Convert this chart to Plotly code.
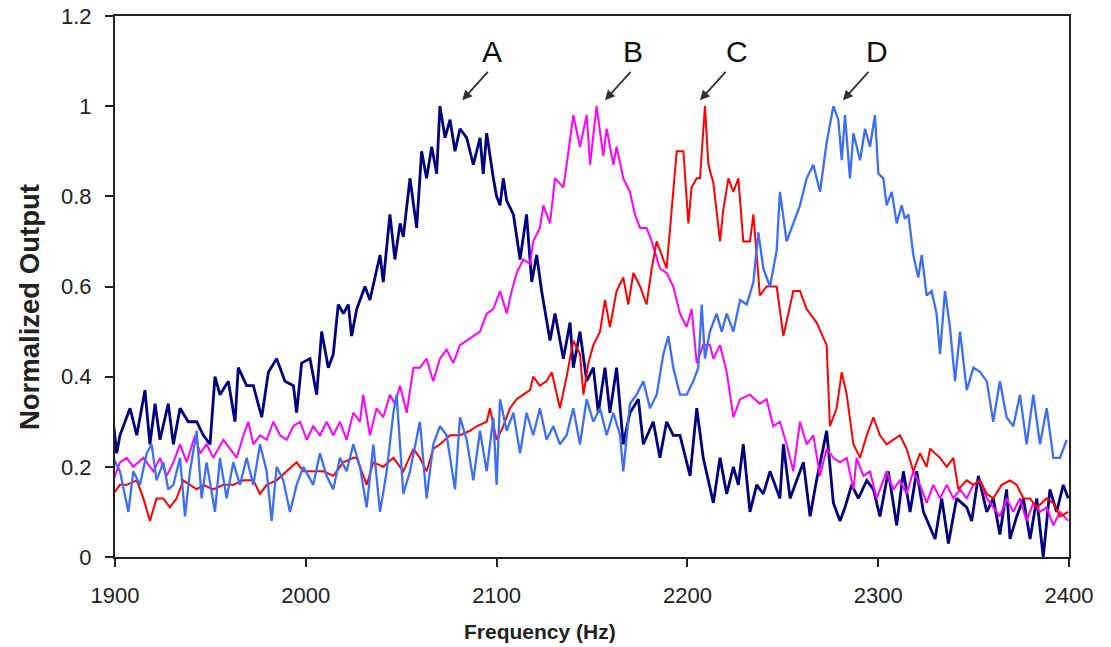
import plotly.graph_objects as go

# Series A (navy)
a_freq = [1899.1, 1900.9, 1902.6, 1907.9, 1911.4, 1915.7, 1918.3, 1921.0, 1923.6, 1927.9,
          1930.6, 1934.1, 1938.4, 1942.8, 1946.3, 1949.8, 1952.4, 1955.0, 1959.4, 1962.9,
          1964.6, 1969.0, 1972.5, 1976.9, 1980.4, 1984.7, 1989.1, 1993.5, 1995.2, 1997.8,
          2002.2, 2005.7, 2008.3, 2011.8, 2014.4, 2017.0, 2019.7, 2022.3, 2024.0, 2026.7,
          2031.0, 2033.6, 2038.9, 2040.6, 2044.1, 2046.7, 2049.4, 2051.1, 2054.6, 2058.1,
          2060.7, 2063.3, 2066.0, 2068.6, 2070.3, 2073.0, 2075.6, 2078.2, 2080.8, 2084.3,
          2087.8, 2091.3, 2093.0, 2094.8, 2098.3, 2100.0, 2101.8, 2103.5, 2105.3, 2108.8,
          2112.3, 2115.7, 2118.4, 2121.0, 2123.6, 2128.0, 2130.6, 2135.0, 2138.5, 2140.2,
          2143.7, 2147.2, 2150.7, 2153.3, 2156.8, 2159.4, 2162.9, 2166.4, 2169.9, 2174.3,
          2176.9, 2182.1, 2185.6, 2189.1, 2192.6, 2196.1, 2201.4, 2204.9, 2208.3, 2213.6,
          2217.1, 2220.6, 2224.1, 2226.7, 2229.3, 2232.8, 2236.3, 2239.8, 2243.3, 2248.5,
          2250.3, 2253.8, 2257.3, 2260.8, 2264.3, 2267.7, 2273.0, 2276.5, 2280.0, 2282.6,
          2286.1, 2289.6, 2294.0, 2297.5, 2300.9, 2305.3, 2309.7, 2313.2, 2316.7, 2320.2,
          2323.7, 2329.8, 2333.3, 2336.8, 2341.1, 2346.4, 2349.0, 2352.5, 2356.9, 2360.3,
          2363.8, 2367.3, 2369.1, 2372.6, 2376.1, 2379.6, 2383.1, 2386.5, 2390.0, 2393.5,
          2397.0, 2399.6]
a_val = [0.30, 0.23, 0.27, 0.33, 0.27, 0.37, 0.25, 0.34, 0.26, 0.34,
         0.25, 0.33, 0.30, 0.30, 0.27, 0.25, 0.40, 0.36, 0.39, 0.30,
         0.42, 0.38, 0.38, 0.31, 0.41, 0.44, 0.39, 0.38, 0.32, 0.43,
         0.44, 0.36, 0.50, 0.42, 0.45, 0.56, 0.54, 0.56, 0.49, 0.55,
         0.60, 0.57, 0.67, 0.61, 0.76, 0.66, 0.74, 0.71, 0.84, 0.73,
         0.90, 0.84, 0.91, 0.85, 1.00, 0.93, 0.97, 0.90, 0.95, 0.93,
         0.87, 0.93, 0.85, 0.94, 0.84, 0.80, 0.78, 0.84, 0.79, 0.76,
         0.66, 0.76, 0.61, 0.67, 0.59, 0.48, 0.54, 0.44, 0.52, 0.42,
         0.50, 0.39, 0.42, 0.32, 0.42, 0.32, 0.42, 0.25, 0.32, 0.35,
         0.25, 0.30, 0.22, 0.30, 0.27, 0.27, 0.18, 0.33, 0.22, 0.12,
         0.22, 0.14, 0.20, 0.16, 0.25, 0.10, 0.16, 0.14, 0.19, 0.13,
         0.25, 0.13, 0.17, 0.21, 0.09, 0.17, 0.28, 0.12, 0.08, 0.11,
         0.16, 0.13, 0.17, 0.15, 0.09, 0.19, 0.07, 0.19, 0.10, 0.19,
         0.10, 0.04, 0.13, 0.03, 0.13, 0.11, 0.08, 0.18, 0.10, 0.13,
         0.05, 0.15, 0.04, 0.09, 0.13, 0.04, 0.13, 0.00, 0.15, 0.10,
         0.16, 0.13]

# Series B (magenta)
b_freq = [1899.1, 1902.6, 1906.1, 1909.6, 1914.9, 1920.1, 1923.6, 1927.1, 1930.6, 1934.1,
          1937.6, 1941.9, 1944.6, 1948.0, 1951.5, 1956.8, 1960.3, 1963.8, 1967.3, 1969.9,
          1972.5, 1976.0, 1979.5, 1983.0, 1986.5, 1990.0, 1993.5, 1997.0, 2000.5, 2003.9,
          2007.4, 2010.9, 2014.4, 2017.9, 2021.4, 2024.9, 2028.4, 2030.1, 2033.6, 2037.1,
          2040.6, 2044.1, 2046.7, 2049.4, 2052.9, 2056.4, 2059.8, 2063.3, 2066.8, 2070.3,
          2073.8, 2077.3, 2080.8, 2084.3, 2087.8, 2091.3, 2094.8, 2098.3, 2101.8, 2105.3,
          2107.9, 2110.5, 2114.0, 2117.5, 2119.2, 2122.7, 2124.5, 2128.0, 2130.6, 2135.0,
          2136.7, 2140.2, 2143.7, 2147.2, 2149.0, 2152.4, 2155.9, 2157.7, 2161.2, 2162.9,
          2166.4, 2169.9, 2172.5, 2175.2, 2178.6, 2181.3, 2185.6, 2189.1, 2192.6, 2196.1,
          2199.6, 2202.2, 2204.9, 2208.3, 2211.8, 2213.6, 2217.1, 2220.6, 2224.1, 2227.6,
          2232.8, 2238.0, 2241.5, 2245.0, 2248.5, 2252.0, 2255.5, 2259.0, 2262.5, 2266.0,
          2269.5, 2273.0, 2276.5, 2280.0, 2283.5, 2287.0, 2288.7, 2292.2, 2295.7, 2299.2,
          2304.4, 2307.9, 2311.4, 2314.9, 2318.4, 2321.9, 2325.4, 2328.9, 2332.4, 2335.9,
          2339.4, 2342.9, 2346.4, 2349.9, 2353.4, 2356.9, 2360.3, 2363.8, 2367.3, 2370.8,
          2374.3, 2377.8, 2381.3, 2384.8, 2388.3, 2391.8, 2395.3, 2399.6]
b_val = [0.17, 0.21, 0.22, 0.20, 0.22, 0.19, 0.22, 0.18, 0.21, 0.25,
         0.21, 0.27, 0.23, 0.25, 0.22, 0.26, 0.24, 0.22, 0.27, 0.30,
         0.25, 0.27, 0.26, 0.30, 0.27, 0.26, 0.29, 0.30, 0.26, 0.29,
         0.27, 0.30, 0.27, 0.30, 0.26, 0.32, 0.30, 0.36, 0.27, 0.33,
         0.31, 0.36, 0.34, 0.38, 0.32, 0.42, 0.42, 0.44, 0.39, 0.44,
         0.46, 0.43, 0.47, 0.48, 0.49, 0.50, 0.54, 0.55, 0.59, 0.54,
         0.59, 0.63, 0.66, 0.65, 0.70, 0.73, 0.78, 0.74, 0.84, 0.82,
         0.87, 0.98, 0.91, 0.98, 0.87, 1.00, 0.89, 0.95, 0.87, 0.91,
         0.84, 0.81, 0.76, 0.73, 0.73, 0.70, 0.64, 0.63, 0.60, 0.54,
         0.51, 0.55, 0.43, 0.47, 0.47, 0.44, 0.47, 0.41, 0.31, 0.35,
         0.36, 0.34, 0.35, 0.29, 0.30, 0.25, 0.19, 0.30, 0.25, 0.27,
         0.18, 0.24, 0.22, 0.21, 0.22, 0.15, 0.22, 0.18, 0.19, 0.13,
         0.19, 0.15, 0.17, 0.14, 0.19, 0.16, 0.12, 0.16, 0.13, 0.16,
         0.13, 0.15, 0.13, 0.16, 0.17, 0.13, 0.11, 0.09, 0.13, 0.10,
         0.13, 0.08, 0.12, 0.10, 0.11, 0.07, 0.10, 0.08]

# Series C (red)
c_freq = [1899.1, 1902.6, 1906.1, 1911.4, 1914.9, 1918.3, 1921.8, 1925.3, 1928.8, 1932.3,
          1935.8, 1939.3, 1942.8, 1946.3, 1951.5, 1956.8, 1962.0, 1967.3, 1972.5, 1976.0,
          1979.5, 1984.7, 1990.0, 1995.2, 1998.7, 2003.9, 2009.2, 2014.4, 2019.7, 2024.9,
          2026.7, 2031.9, 2035.4, 2040.6, 2045.9, 2051.1, 2056.4, 2059.8, 2063.3, 2066.8,
          2070.3, 2075.6, 2080.8, 2086.1, 2089.5, 2094.8, 2096.5, 2100.0, 2103.5, 2107.0,
          2110.5, 2114.0, 2117.5, 2119.2, 2122.7, 2126.2, 2128.9, 2133.2, 2136.7, 2140.2,
          2143.7, 2145.5, 2148.1, 2150.7, 2154.2, 2156.8, 2159.4, 2162.9, 2166.4, 2169.0,
          2171.7, 2175.2, 2178.6, 2181.3, 2183.9, 2189.1, 2191.8, 2194.4, 2197.9, 2200.5,
          2202.2, 2204.9, 2206.6, 2209.2, 2211.0, 2213.6, 2217.1, 2218.8, 2221.5, 2224.1,
          2226.7, 2229.3, 2232.8, 2234.6, 2238.0, 2241.5, 2246.8, 2250.3, 2255.5, 2259.0,
          2262.5, 2267.7, 2273.0, 2274.7, 2278.2, 2280.9, 2283.5, 2287.0, 2290.5, 2294.0,
          2297.5, 2300.9, 2304.4, 2307.9, 2311.4, 2314.9, 2318.4, 2321.9, 2325.4, 2327.2,
          2332.4, 2335.9, 2339.4, 2342.0, 2346.4, 2349.9, 2353.4, 2356.9, 2360.3, 2364.7,
          2369.1, 2372.6, 2376.1, 2379.6, 2383.1, 2388.3, 2391.8, 2395.3, 2399.6]
c_val = [0.14, 0.16, 0.16, 0.17, 0.13, 0.08, 0.13, 0.13, 0.11, 0.13,
         0.17, 0.16, 0.15, 0.16, 0.15, 0.16, 0.16, 0.17, 0.17, 0.14,
         0.16, 0.17, 0.19, 0.21, 0.19, 0.19, 0.19, 0.18, 0.21, 0.22,
         0.22, 0.16, 0.21, 0.20, 0.22, 0.19, 0.24, 0.22, 0.19, 0.24,
         0.25, 0.27, 0.27, 0.28, 0.29, 0.30, 0.33, 0.26, 0.29, 0.33,
         0.35, 0.36, 0.37, 0.40, 0.38, 0.39, 0.41, 0.33, 0.40, 0.48,
         0.45, 0.36, 0.43, 0.47, 0.50, 0.57, 0.51, 0.59, 0.62, 0.56,
         0.63, 0.60, 0.56, 0.64, 0.70, 0.64, 0.78, 0.90, 0.90, 0.74,
         0.82, 0.84, 0.84, 1.00, 0.87, 0.83, 0.70, 0.77, 0.84, 0.81,
         0.84, 0.70, 0.70, 0.76, 0.58, 0.60, 0.60, 0.49, 0.59, 0.59,
         0.55, 0.52, 0.47, 0.29, 0.33, 0.41, 0.36, 0.25, 0.22, 0.27,
         0.31, 0.27, 0.25, 0.26, 0.27, 0.24, 0.19, 0.23, 0.20, 0.24,
         0.22, 0.20, 0.22, 0.15, 0.17, 0.16, 0.17, 0.14, 0.13, 0.16,
         0.17, 0.16, 0.13, 0.13, 0.11, 0.13, 0.12, 0.09, 0.10]

# Series D (blue)
d_freq = [1899.1, 1902.6, 1907.0, 1909.6, 1913.1, 1916.6, 1919.2, 1921.8, 1925.3, 1927.9,
          1930.6, 1934.1, 1936.7, 1939.3, 1942.8, 1945.4, 1948.0, 1952.4, 1955.0, 1958.5,
          1962.0, 1965.5, 1969.0, 1972.5, 1976.0, 1979.5, 1982.1, 1984.7, 1988.2, 1991.7,
          1995.2, 1998.7, 2003.9, 2007.4, 2010.9, 2014.4, 2017.9, 2021.4, 2024.9, 2028.4,
          2031.9, 2035.4, 2038.9, 2042.4, 2045.9, 2047.6, 2051.1, 2054.6, 2059.8, 2063.3,
          2066.8, 2070.3, 2073.8, 2078.2, 2080.8, 2084.3, 2087.8, 2091.3, 2094.8, 2098.3,
          2100.0, 2101.8, 2105.3, 2108.8, 2112.3, 2115.7, 2119.2, 2122.7, 2126.2, 2129.7,
          2133.2, 2136.7, 2140.2, 2143.7, 2147.2, 2150.7, 2154.2, 2157.7, 2161.2, 2164.7,
          2166.4, 2169.9, 2173.4, 2176.9, 2180.4, 2183.9, 2187.4, 2190.0, 2192.6, 2196.1,
          2199.6, 2203.1, 2205.7, 2207.5, 2209.2, 2211.8, 2215.3, 2218.0, 2220.6, 2224.1,
          2227.6, 2231.1, 2234.6, 2237.2, 2239.8, 2243.3, 2246.8, 2248.5, 2252.0, 2255.5,
          2259.0, 2262.5, 2266.0, 2269.5, 2273.0, 2276.5, 2279.1, 2280.9, 2282.6, 2285.2,
          2287.0, 2290.5, 2293.1, 2295.7, 2298.3, 2300.1, 2302.7, 2304.4, 2307.1, 2309.7,
          2312.3, 2314.0, 2315.8, 2318.4, 2321.0, 2322.8, 2325.4, 2328.0, 2330.6, 2332.4,
          2335.0, 2337.6, 2340.3, 2342.9, 2346.4, 2349.9, 2353.4, 2356.9, 2360.3, 2363.8,
          2367.3, 2370.8, 2374.3, 2377.8, 2381.3, 2384.8, 2388.3, 2391.8, 2395.3, 2398.8]
d_val = [0.22, 0.19, 0.10, 0.19, 0.16, 0.23, 0.25, 0.17, 0.21, 0.15,
         0.16, 0.22, 0.09, 0.19, 0.28, 0.13, 0.21, 0.10, 0.22, 0.13,
         0.21, 0.16, 0.22, 0.16, 0.25, 0.19, 0.08, 0.20, 0.17, 0.10,
         0.16, 0.20, 0.16, 0.23, 0.18, 0.15, 0.22, 0.19, 0.25, 0.20,
         0.11, 0.25, 0.10, 0.19, 0.32, 0.36, 0.14, 0.19, 0.30, 0.13,
         0.25, 0.29, 0.27, 0.15, 0.31, 0.26, 0.17, 0.28, 0.19, 0.31,
         0.16, 0.35, 0.28, 0.32, 0.23, 0.32, 0.27, 0.33, 0.26, 0.29,
         0.25, 0.27, 0.33, 0.25, 0.35, 0.30, 0.33, 0.27, 0.32, 0.27,
         0.19, 0.34, 0.36, 0.39, 0.33, 0.36, 0.45, 0.49, 0.42, 0.36,
         0.36, 0.39, 0.42, 0.56, 0.44, 0.50, 0.54, 0.50, 0.54, 0.50,
         0.57, 0.56, 0.61, 0.72, 0.64, 0.60, 0.68, 0.81, 0.70, 0.74,
         0.78, 0.84, 0.87, 0.81, 0.92, 1.00, 0.97, 0.88, 0.98, 0.84,
         0.94, 0.88, 0.95, 0.91, 0.98, 0.85, 0.84, 0.78, 0.81, 0.74,
         0.78, 0.75, 0.76, 0.67, 0.62, 0.67, 0.58, 0.59, 0.54, 0.45,
         0.59, 0.51, 0.39, 0.50, 0.37, 0.42, 0.41, 0.39, 0.30, 0.39,
         0.31, 0.29, 0.36, 0.25, 0.36, 0.25, 0.33, 0.22, 0.22, 0.26]

names = ["A", "B", "C", "D"]
colors = ["#000080", "#FF00FF", "#FF0000", "#3D6EF7"]
widths = [2.8, 2.0, 2.0, 2.3]
xs = [a_freq, b_freq, c_freq, d_freq]
ys = [a_val, b_val, c_val, d_val]

fig = go.Figure()
for name, x, y, col, w in zip(names, xs, ys, colors, widths):
    fig.add_trace(go.Scatter(x=x, y=y, mode="lines", name=name,
                             line=dict(color=col, width=w)))

# peak labels with arrows
label_names = ["A", "B", "C", "D"]
label_x = [2097.4, 2171.5, 2226.0, 2299.4]
label_y = [1.121, 1.121, 1.121, 1.121]
tip_x = [2082.0, 2156.8, 2206.6, 2281.5]
tip_y = [1.013, 1.013, 1.013, 1.013]

annotations = []
for t, lx, ly, tx, ty in zip(label_names, label_x, label_y, tip_x, tip_y):
    annotations.append(dict(x=lx, y=ly, xref="x", yref="y", text=t, showarrow=False,
                            font=dict(family="Liberation Sans, Arial", size=30, color="#111")))
    annotations.append(dict(x=tx, y=ty, xref="x", yref="y", text="", showarrow=True,
                            ax=27, ay=-30, arrowhead=2, arrowsize=1.1, arrowwidth=1.8,
                            arrowcolor="#333", standoff=0))

annotations.append(dict(x=2122.7, y=-0.1386, xref="x", yref="paper", text="<b>Frequency (Hz)</b>",
                        showarrow=False, yanchor="middle",
                        font=dict(family="Liberation Sans, Arial", size=21, color="#222")))
annotations.append(dict(x=-0.089, y=0.5546, xref="paper", yref="y", text="<b>Normalized Output</b>",
                        showarrow=False, textangle=-90, xanchor="center", yanchor="middle",
                        font=dict(family="Liberation Sans, Arial", size=27.5, color="#222")))

# the page body adds an 8px offset; compensate in size and margins
fig.update_layout(
    width=1103, height=639,
    margin=dict(l=107, r=42, t=8, b=90),
    paper_bgcolor="white", plot_bgcolor="white",
    showlegend=False,
    font=dict(family="Liberation Sans, Arial", size=22, color="#222"),
    annotations=annotations,
)
fig.update_xaxes(range=[1900, 2400], dtick=100, tick0=1900, showgrid=False, zeroline=False,
                 showline=True, linecolor="#222", linewidth=2, mirror=True, automargin=False,
                 ticks="outside", ticklen=8, tickwidth=2, tickcolor="#222",
                 ticklabelstandoff=10)
fig.update_yaxes(range=[0, 1.2], dtick=0.2, tick0=0, showgrid=False, zeroline=False,
                 showline=True, linecolor="#222", linewidth=2, mirror=True, automargin=False,
                 ticks="outside", ticklen=8, tickwidth=2, tickcolor="#222",
                 ticklabelstandoff=9, ticklabeloverflow="allow")

fig.write_html("out.html")
